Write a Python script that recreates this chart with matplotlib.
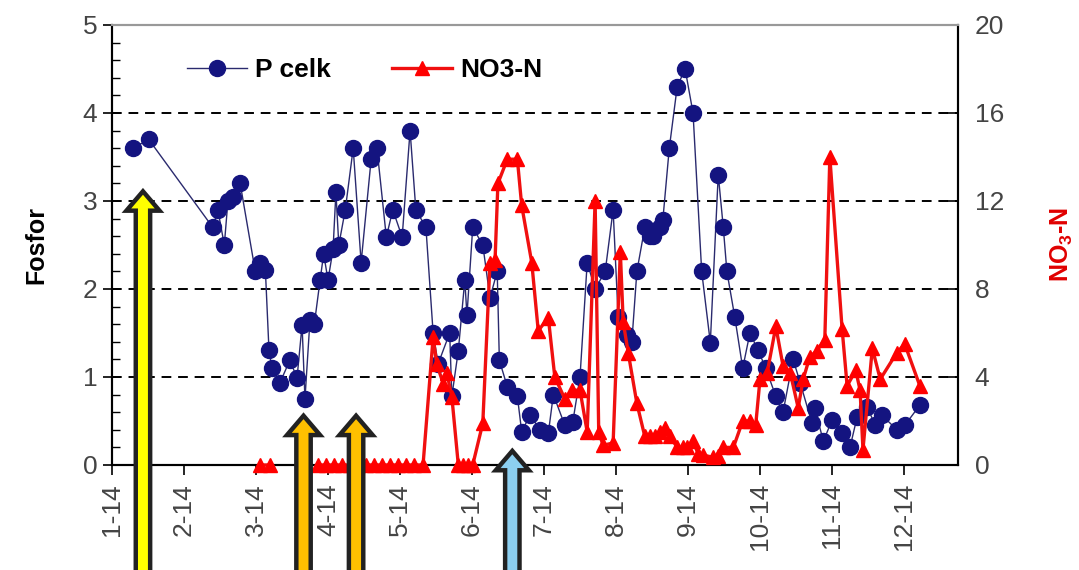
import numpy as np
import matplotlib
matplotlib.use("Agg")
import matplotlib.pyplot as plt
from matplotlib.patches import Polygon

plt.rcParams["font.family"] = ["Liberation Sans", "DejaVu Sans"]
plt.rcParams["mathtext.fontset"] = "custom"
plt.rcParams["mathtext.rm"] = "Liberation Sans:bold"
plt.rcParams["mathtext.default"] = "rm"

# x positions are in months from 1 Jan 2014 (0 = "1-14", 1 = "2-14", ...)
month_labels = ["1-14", "2-14", "3-14", "4-14", "5-14", "6-14",
                "7-14", "8-14", "9-14", "10-14", "11-14", "12-14"]

p_t = [0.29, 0.51, 1.40, 1.47, 1.56, 1.61, 1.68, 1.78, 1.99, 2.06, 2.13, 2.18,
       2.22, 2.33, 2.47, 2.57, 2.64, 2.68, 2.75, 2.81, 2.89, 2.94, 3.00, 3.07,
       3.11, 3.15, 3.24, 3.35, 3.46, 3.60, 3.68, 3.81, 3.90, 4.03, 4.14, 4.22,
       4.36, 4.46, 4.53, 4.69, 4.72, 4.81, 4.90, 4.93, 5.01, 5.15, 5.25, 5.35,
       5.38, 5.49, 5.63, 5.69, 5.81, 5.94, 6.06, 6.13, 6.29, 6.40, 6.50, 6.60,
       6.71, 6.85, 6.96, 7.03, 7.15, 7.22, 7.29, 7.40, 7.47, 7.51, 7.61, 7.65,
       7.74, 7.85, 7.96, 8.07, 8.19, 8.31, 8.42, 8.49, 8.54, 8.65, 8.76, 8.86,
       8.97, 9.08, 9.22, 9.32, 9.46, 9.56, 9.72, 9.76, 9.88, 10.00, 10.14,
       10.25, 10.35, 10.49, 10.60, 10.69, 10.90, 11.01, 11.22]
p_celk = [3.6, 3.7, 2.7, 2.9, 2.5, 3.0, 3.05, 3.2, 2.2, 2.3, 2.22, 1.31,
          1.1, 0.93, 1.19, 0.99, 1.59, 0.75, 1.65, 1.6, 2.1, 2.4, 2.1, 2.45,
          3.1, 2.5, 2.9, 3.6, 2.3, 3.48, 3.6, 2.59, 2.9, 2.59, 3.8, 2.9,
          2.7, 1.5, 1.15, 1.5, 0.78, 1.3, 2.1, 1.7, 2.7, 2.5, 1.9, 2.2,
          1.19, 0.89, 0.78, 0.38, 0.57, 0.4, 0.36, 0.8, 0.45, 0.49, 1.0, 2.3,
          2.0, 2.2, 2.9, 1.68, 1.48, 1.4, 2.2, 2.7, 2.6, 2.6, 2.7, 2.78,
          3.6, 4.3, 4.5, 4.0, 2.2, 1.39, 3.3, 2.7, 2.2, 1.68, 1.1, 1.5,
          1.31, 1.1, 0.78, 0.6, 1.2, 0.93, 0.48, 0.65, 0.27, 0.51, 0.36,
          0.2, 0.55, 0.66, 0.45, 0.57, 0.4, 0.45, 0.68]

n_t = [2.06, 2.19, 2.50, 2.86, 2.97, 3.08, 3.19, 3.31, 3.42, 3.53, 3.64, 3.75,
       3.86, 3.97, 4.08, 4.19, 4.32, 4.46, 4.51, 4.60, 4.65, 4.72, 4.81, 4.88,
       4.94, 5.01, 5.15, 5.25, 5.32, 5.36, 5.49, 5.63, 5.69, 5.83, 5.92, 6.06,
       6.15, 6.29, 6.39, 6.50, 6.60, 6.71, 6.76, 6.82, 6.96, 7.06, 7.10, 7.17,
       7.29, 7.40, 7.47, 7.54, 7.61, 7.68, 7.75, 7.85, 7.93, 7.99, 8.07, 8.14,
       8.21, 8.35, 8.42, 8.49, 8.63, 8.76, 8.86, 8.94, 9.00, 9.10, 9.22, 9.32,
       9.42, 9.53, 9.60, 9.69, 9.79, 9.90, 9.97, 10.14, 10.21, 10.33, 10.39,
       10.43, 10.56, 10.67, 10.90, 11.01, 11.22]
no3_n = [0, 0, np.nan, 0, 0, 0, 0, 0, 0, 0, 0, 0,
         0, 0, 0, 0, 0, 5.8, 4.6, 3.7, 4.2, 3.1, 0, 0,
         0, 0, 1.9, 9.2, 9.3, 12.8, 13.9, 13.9, 11.8, 9.2, 6.1, 6.7,
         4.0, 3.0, 3.4, 3.4, 1.5, 12.0, 1.5, 0.9, 1.0, 9.7, 6.5, 5.1,
         2.8, 1.3, 1.3, 1.3, 1.5, 1.7, 1.3, 0.8, 0.8, 0.8, 1.1, 0.5,
         0.45, 0.35, 0.4, 0.8, 0.8, 2.0, 2.0, 1.8, 3.9, 4.2, 6.3, 4.5,
         4.2, 2.6, 3.9, 4.9, 5.2, 5.7, 14.0, 6.2, 3.6, 4.3, 3.4,
         0.7, 5.3, 3.9, 5.1, 5.5, 3.6]

# marker arrows: month position, tip value on left axis, fill colour
arrow_t = [0.43, 2.66, 3.39, 5.56]
arrow_tip = [3.11, 0.56, 0.56, 0.16]
arrow_colors = ["#FFFF00", "#FFC000", "#FFC000", "#8CCFF0"]

tick_grey = "#444444"

fig = plt.figure(figsize=(10.79, 5.70), dpi=100)
ax = fig.add_axes([112 / 1079, 1 - 465 / 570, 846 / 1079, 440 / 570])
ax2 = ax.twinx()

for lvl in [1, 2, 3, 4]:
    ax.axhline(lvl, color="black", lw=1.4, ls=(0, (5, 3.5)), zorder=1)

l1, = ax.plot(p_t, p_celk, color="#2a2a6e", lw=1.0, marker="o", ms=11.5,
              mfc="#141480", mec="#141480", label="P celk", zorder=3,
              clip_on=False)
l2, = ax2.plot(n_t, no3_n, color="#F01010", lw=2.4, marker="^", ms=9.5,
               mfc="#FF0000", mec="#FF0000", label="NO3-N", zorder=3,
               clip_on=False)

ax.set_xlim(0, 11.75)
ax.set_ylim(0, 5)
ax2.set_ylim(0, 20)

ax.set_xticks(range(12))
ax.set_xticklabels(month_labels, rotation=90, fontsize=19, color=tick_grey)
ax.tick_params(axis="x", direction="out", length=7, width=1.2, pad=6)

ax.set_yticks(range(6))
ax.set_yticks(np.arange(0, 5.01, 0.2), minor=True)
ax.tick_params(axis="y", which="major", direction="inout", length=13,
               width=1.2, labelsize=19, labelcolor=tick_grey, pad=4)
ax.tick_params(axis="y", which="minor", direction="in", length=6, width=1.0)

ax2.set_yticks([0, 4, 8, 12, 16, 20])
ax2.tick_params(axis="y", direction="in", length=8, width=1.2,
                labelsize=19, labelcolor=tick_grey, pad=12)

ax.set_ylabel("Fosfor", fontsize=18, fontweight="bold", labelpad=25)
ax2.set_ylabel("NO$_3$-N", fontsize=18, fontweight="bold", color="#E00000",
               labelpad=32)

for a in (ax, ax2):
    a.spines["top"].set_color("#999999")
    a.spines["top"].set_linewidth(1.5)
    a.spines["left"].set_linewidth(1.5)
    a.spines["right"].set_linewidth(1.5)
    a.spines["bottom"].set_linewidth(1.5)

leg = ax2.legend([l1, l2], ["P celk", "NO3-N"], loc="center left",
                 bbox_to_anchor=(0.06, 0.898), ncol=2, frameon=False,
                 handlelength=2.3, handletextpad=0.3, columnspacing=2.3,
                 prop={"size": 19, "weight": "bold"})

# arrows drawn on top, running off the bottom of the figure
for x, tip, c in zip(arrow_t, arrow_tip, arrow_colors):
    sw, hw, hl, bottom = 0.10, 0.23, 0.22, -1.6
    pts = [(x - sw, bottom), (x - sw, tip - hl), (x - hw, tip - hl), (x, tip),
           (x + hw, tip - hl), (x + sw, tip - hl), (x + sw, bottom)]
    poly = Polygon(pts, closed=True, facecolor=c, edgecolor="#222222",
                   lw=3.2, joinstyle="miter", transform=ax.transData,
                   clip_on=False, zorder=10)
    ax2.add_patch(poly)

fig.savefig("out.png", dpi=100)
